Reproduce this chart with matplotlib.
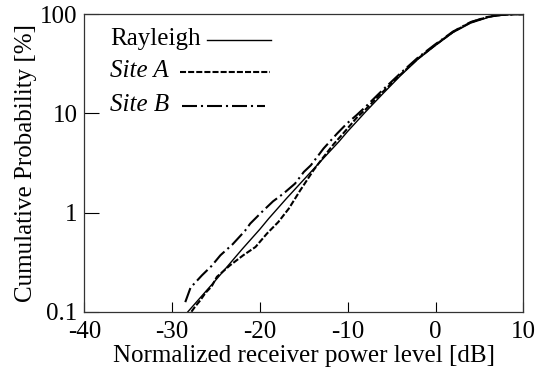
import matplotlib
matplotlib.use("Agg")
import matplotlib.pyplot as plt

plt.rcParams['font.family'] = ['Liberation Serif', 'DejaVu Serif']
plt.rcParams['axes.unicode_minus'] = False

# values (x in dB, y in %)
rayleigh_x = [-28.2, -25, -22, -20, -19, -17, -15, -13, -11, -10, -8, -6, -4, -2, 0, 2, 4, 6, 7, 8, 9, 10]
rayleigh_y = [0.1, 0.21, 0.43, 0.68, 0.87, 1.38, 2.15, 3.35, 5.2, 6.6, 10.3, 15.8, 24.0, 35.2, 48.5, 65.5, 81.5, 93.0, 96.6, 98.6, 99.6, 99.9]

siteA_x = [-27.8, -27.4, -26.8, -26.2, -25.5, -24.9, -23.4, -21.9, -20.5, -19.2, -17.9, -16.7, -15.4, -13.9, -12.9, -11.6, -10.5, -9, -8, -6, -4, -2, 0, 2, 4, 6, 7, 8, 9, 10]
siteA_y = [0.1, 0.112, 0.13, 0.155, 0.18, 0.225, 0.294, 0.371, 0.45, 0.614, 0.804, 1.10, 1.68, 2.67, 3.5, 4.9, 6.3, 9.0, 10.9, 16.5, 24.6, 35.8, 49.2, 66.5, 83.0, 94.3, 97.5, 99.0, 99.8, 100]

siteB_x = [-28.5, -27.9, -26.6, -25.5, -24.5, -23.1, -21.7, -21.1, -19.8, -18.5, -17.3, -16.0, -15.0, -14.2, -12.75, -11.2, -10.1, -9, -8, -6, -4, -2, 0, 2, 4, 6, 7, 8, 9, 10]
siteB_y = [0.125, 0.175, 0.233, 0.29, 0.371, 0.48, 0.655, 0.775, 1.01, 1.3, 1.56, 1.96, 2.57, 3.0, 4.43, 6.28, 7.9, 9.6, 11.6, 17.3, 25.4, 36.6, 50.0, 67.0, 83.5, 94.6, 97.8, 99.2, 99.8, 100]

x_ticks = [-40, -30, -20, -10, 0, 10]
y_ticks = [0.1, 1, 10, 100]
y_tick_labels = ['0.1', '1', '10', '100']

fig = plt.figure(figsize=(5.38, 3.72), dpi=100)
ax = fig.add_axes([0.1567, 0.162, 0.816, 0.7996])

ax.plot(rayleigh_x, rayleigh_y, color='black', lw=1.0)
la, = ax.plot(siteA_x, siteA_y, color='black', lw=1.5)
la.set_dashes([2.9, 1.0])
lb, = ax.plot(siteB_x, siteB_y, color='black', lw=1.5)
lb.set_dashes([7.2, 1.9, 1.0, 1.9])

ax.set_yscale('log')
ax.set_xlim(-40, 10)
ax.set_ylim(0.1, 100)
ax.set_xticks(x_ticks)
ax.set_xticklabels([str(v) for v in x_ticks])
ax.set_yticks(y_ticks)
ax.set_yticklabels(y_tick_labels)
ax.minorticks_off()
ax.tick_params(axis='both', direction='in', labelsize=18, colors='black')
ax.tick_params(axis='x', length=7.5, width=0.8, pad=7)
ax.tick_params(axis='y', length=10.5, width=0.8, pad=5)
for s in ax.spines.values():
    s.set_linewidth(0.9)
    s.set_color('#333333')

ax.set_xlabel('Normalized receiver power level [dB]', fontsize=18, labelpad=1)
ax.set_ylabel('Cumulative Probability [%]', fontsize=18, labelpad=2)

# legend: left-aligned labels, sample line right after each label
legend_rows = [('Rayleigh', 'normal', None, 0.2795, 0.425, 0.9136),
               ('Site A', 'italic', [2.9, 1.0], 0.218, 0.423, 0.806),
               ('Site B', 'italic', [7.2, 1.9, 1.0, 1.9], 0.2226, 0.412, 0.692)]
for label, style, dashes, x0, x1, yy in legend_rows:
    ax.text(0.0585, yy - 0.017, label, transform=ax.transAxes, fontsize=18,
            fontstyle=style, ha='left', va='baseline')
    ln, = ax.plot([x0, x1], [yy, yy], transform=ax.transAxes,
                  color='black', lw=1.0 if dashes is None else 1.5)
    if dashes is not None:
        ln.set_dashes(dashes)

fig.savefig('out.png', dpi=100)
